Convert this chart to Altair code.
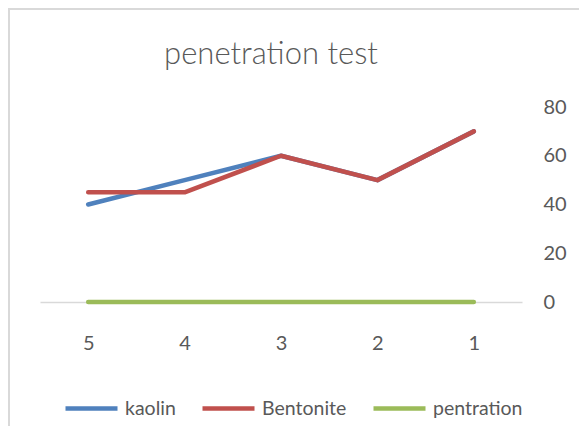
import altair as alt
import pandas as pd

categories = ["5", "4", "3", "2", "1"]
kaolin = [40, 50, 60, 50, 70]
bentonite = [45, 45, 60, 50, 70]
pentration = [0, 0, 0, 0, 0]
series = ["kaolin", "Bentonite", "pentration"]
colors = ["#4f81bd", "#c0504d", "#9bbb59"]

rows = []
for name, vals in zip(series, [kaolin, bentonite, pentration]):
    for c, v in zip(categories, vals):
        rows.append({"cat": c, "value": v, "series": name})
df = pd.DataFrame(rows)

FONT = "Lato"
GREY = "#595959"

lines = alt.Chart(df).mark_line(strokeWidth=4.5, strokeCap="round", strokeJoin="round").encode(
    x=alt.X("cat:N", sort=categories, scale=alt.Scale(type="point", padding=0.5),
            axis=alt.Axis(title=None, labelAngle=0, ticks=False, domainColor="#d9d9d9",
                          domainWidth=1.5, labelPadding=31, labelFontSize=20,
                          labelColor=GREY, labelFont=FONT)),
    y=alt.Y("value:Q", scale=alt.Scale(domain=[0, 80]),
            axis=alt.Axis(title=None, orient="right", values=[0, 20, 40, 60, 80],
                          grid=False, ticks=False, domain=False, labelPadding=21,
                          labelFontSize=20, labelColor=GREY, labelFont=FONT)),
    color=alt.Color("series:N", scale=alt.Scale(domain=series, range=colors),
                    legend=alt.Legend(title=None, orient="none", direction="horizontal",
                                      legendX=23, legendY=273, symbolType="stroke",
                                      symbolSize=2704, symbolStrokeWidth=4.5,
                                      labelFontSize=19.5, labelColor=GREY, labelFont=FONT,
                                      labelOffset=5, columnPadding=17)),
)

border = alt.Chart(pd.DataFrame({"a": [0]})).mark_rule(color="#d9d9d9", strokeWidth=2).encode(
    x=alt.value(-31), y=alt.value(-99), y2=alt.value(345)
)
border_top = alt.Chart(pd.DataFrame({"a": [0]})).mark_rule(color="#d9d9d9", strokeWidth=2).encode(
    x=alt.value(-31), x2=alt.value(555), y=alt.value(-98)
)

chart = alt.layer(border, border_top, lines).properties(
    width=482, height=195,
    autosize=alt.AutoSizeParams(type="none"),
    padding={"left": 32, "top": 99, "right": 57, "bottom": 124},
    title=alt.TitleParams("penetration test", fontSize=31, font=FONT, fontWeight=300,
                          color=GREY, anchor="middle", frame="group", dx=-10, offset=-64),
).configure_view(stroke=None)

chart.save("out.html", embed_options={"renderer": "svg", "actions": False})
